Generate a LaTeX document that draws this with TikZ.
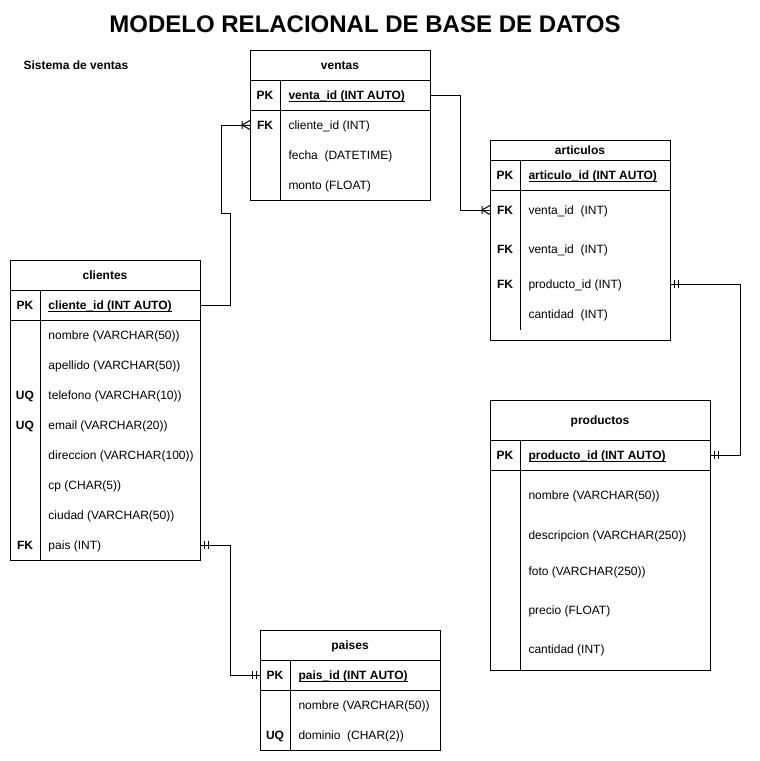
\documentclass[tikz,border=0pt]{standalone}
\usepackage{fontspec}
\setmainfont{Liberation Sans}
\usepackage{tikz}
\tikzset{
	tbl/.style={draw, inner sep=0pt, outer sep=0pt, anchor=north west},
	ttl/.style={font=\fontsize{12}{14}\selectfont\bfseries, text height=8.6pt, text depth=0pt, inner sep=0pt},
	key/.style={font=\fontsize{12}{14}\selectfont\bfseries, text height=8.6pt, text depth=0pt, inner sep=0pt},
	fld/.style={font=\fontsize{12}{14}\selectfont, anchor=west, text height=8.6pt, text depth=0pt, inner sep=0pt},
	pkfld/.style={fld, font=\fontsize{12}{14}\selectfont\bfseries},
	unoyuno/.pic={
		\draw (-4,-4) -- (-4,4) (-8,-4) -- (-8,4);
	},
	muchos/.pic={
		\draw (-8,-4) -- (-8,4) (-8,0) -- (0,-4.5) (-8,0) -- (0,4.5);
	},
}
\newcommand{\llave}[1]{\underline{\smash{#1}}}

\begin{document}
\begin{tikzpicture}[x=1pt, y=-1pt, line width=1pt]
			\useasboundingbox (0,0) rectangle (760,761);
			\node[font=\fontsize{24}{28}\selectfont\bfseries] (titulo) at (365,24) {MODELO RELACIONAL DE BASE DE DATOS};
			\node[font=\fontsize{12}{14}\selectfont\bfseries, anchor=west, inner sep=0pt] (sistema) at (23,65) {Sistema de ventas};
			% ventas
			\node[tbl, minimum width=180, minimum height=150] (ventas) at (250,50) {};
			\draw (250,80) -- (430,80) (250,110) -- (430,110) (280,80) -- (280,200);
			\node[ttl] (tventas) at (340,65) {ventas};
			\node[key] (vpk) at (265,95) {PK};
			\node[pkfld] (vventaid) at (288,95) {\llave{venta\_id (INT AUTO)}};
			\node[key] (vfk) at (265,125) {FK};
			\node[fld] (vclienteid) at (288,125) {cliente\_id (INT)};
			\node[fld] (vfecha) at (288,155) {fecha\ \ (DATETIME)};
			\node[fld] (vmonto) at (288,185) {monto (FLOAT)};
			% articulos
			\node[tbl, minimum width=180, minimum height=200] (articulos) at (490,140) {};
			\draw (490,160) -- (670,160) (490,190) -- (670,190) (520,160) -- (520,330);
			\node[ttl] (tarticulos) at (580,150) {articulos};
			\node[key] (apk) at (505,175) {PK};
			\node[pkfld] (aarticuloid) at (528,175) {\llave{articulo\_id (INT AUTO)}};
			\node[key] (afk1) at (505,210) {FK};
			\node[fld] (aventaid1) at (528,210) {venta\_id\ \ (INT)};
			\node[key] (afk2) at (505,249) {FK};
			\node[fld] (aventaid2) at (528,249) {venta\_id\ \ (INT)};
			\node[key] (afk3) at (505,284) {FK};
			\node[fld] (aproductoid) at (528,284) {producto\_id (INT)};
			\node[fld] (acantidad) at (528,314) {cantidad\ \ (INT)};
			% clientes
			\node[tbl, minimum width=190, minimum height=300] (clientes) at (10,260) {};
			\draw (10,290) -- (200,290) (10,320) -- (200,320) (40,290) -- (40,560);
			\node[ttl] (tclientes) at (105,275) {clientes};
			\node[key] (cpk) at (25,305) {PK};
			\node[pkfld] (cclienteid) at (48,305) {\llave{cliente\_id (INT AUTO)}};
			\node[fld] (cnombre) at (48,335) {nombre (VARCHAR(50))};
			\node[fld] (capellido) at (48,365) {apellido (VARCHAR(50))};
			\node[key] (cuq1) at (25,395) {UQ};
			\node[fld] (ctelefono) at (48,395) {telefono (VARCHAR(10))};
			\node[key] (cuq2) at (25,425) {UQ};
			\node[fld] (cemail) at (48,425) {email (VARCHAR(20))};
			\node[fld] (cdireccion) at (48,455) {direccion (VARCHAR(100))};
			\node[fld] (ccp) at (48,485) {cp (CHAR(5))};
			\node[fld] (cciudad) at (48,515) {ciudad (VARCHAR(50))};
			\node[key] (cfk) at (25,545) {FK};
			\node[fld] (cpais) at (48,545) {pais (INT)};
			% productos
			\node[tbl, minimum width=220, minimum height=270] (productos) at (490,400) {};
			\draw (490,440) -- (710,440) (490,470) -- (710,470) (520,440) -- (520,670);
			\node[ttl] (tproductos) at (600,420) {productos};
			\node[key] (ppk) at (505,455) {PK};
			\node[pkfld] (pproductoid) at (528,455) {\llave{producto\_id (INT AUTO)}};
			\node[fld] (pnombre) at (528,495) {nombre (VARCHAR(50))};
			\node[fld] (pdescripcion) at (528,535) {descripcion (VARCHAR(250))};
			\node[fld] (pfoto) at (528,571) {foto (VARCHAR(250))};
			\node[fld] (pprecio) at (528,610) {precio (FLOAT)};
			\node[fld] (pcantidad) at (528,649) {cantidad (INT)};
			% paises
			\node[tbl, minimum width=180, minimum height=120] (paises) at (260,630) {};
			\draw (260,660) -- (440,660) (260,690) -- (440,690) (290,660) -- (290,750);
			\node[ttl] (tpaises) at (350,645) {paises};
			\node[key] (spk) at (275,675) {PK};
			\node[pkfld] (spaisid) at (298,675) {\llave{pais\_id (INT AUTO)}};
			\node[fld] (snombre) at (298,705) {nombre (VARCHAR(50))};
			\node[key] (suq) at (275,735) {UQ};
			\node[fld] (sdominio) at (298,735) {dominio\ \ (CHAR(2))};
			% relaciones
			\draw (clientes.east |- cpk) -- ++(30,0) -- ++(0,-92) -- ++(-9,0) |- (ventas.west |- vfk);
			\pic at (ventas.west |- vfk) {muchos};
			\draw (ventas.east |- vpk) -- ++(30,0) |- (articulos.west |- afk1);
			\pic at (articulos.west |- afk1) {muchos};
			\draw (articulos.east |- afk3) -- ++(70,0) |- (productos.east |- ppk);
			\pic[xscale=-1] at (articulos.east |- afk3) {unoyuno};
			\pic[xscale=-1] at (productos.east |- ppk) {unoyuno};
			\draw (clientes.east |- cfk) -- ++(30,0) |- (paises.west |- spk);
			\pic[xscale=-1] at (clientes.east |- cfk) {unoyuno};
			\pic at (paises.west |- spk) {unoyuno};
		\end{tikzpicture}
\end{document}
